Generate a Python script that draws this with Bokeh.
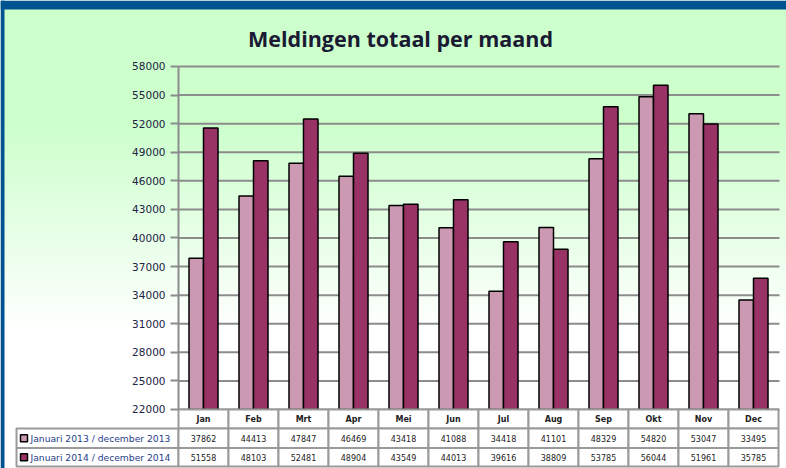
import numpy as np
from bokeh.plotting import figure
from bokeh.models import Range1d, LinearAxis, FixedTicker, NumeralTickFormatter
from bokeh.core.properties import value
from bokeh.embed import file_html
from bokeh.resources import INLINE

# ---------------- data ----------------
months = ["Jan", "Feb", "Mrt", "Apr", "Mei", "Jun", "Jul", "Aug", "Sep", "Okt", "Nov", "Dec"]
v2013 = [37862, 44413, 47847, 46469, 43418, 41088, 34418, 41101, 48329, 54820, 53047, 33495]
v2014 = [51558, 48103, 52481, 48904, 43549, 44013, 39616, 38809, 53785, 56044, 51961, 35785]
series = ["Januari 2013 / december 2013", "Januari 2014 / december 2014"]
yticks = [22000, 25000, 28000, 31000, 34000, 37000, 40000, 43000, 46000, 49000, 52000, 55000, 58000]
title = "Meldingen totaal per maand"

# ---------------- styles ----------------
LIGHT = "#CC99B3"
DARK = "#993366"
GRID = "#8c8c8c"
TBL = "#9a9a9a"
BLUE = "#005291"
W, H = 786, 468
X0, X1 = -4.06, 11.66

p = figure(width=W, height=H, output_backend="svg", toolbar_location=None,
           x_range=Range1d(X0, X1), y_range=Range1d(15807, 64927),
           min_border=0, x_axis_location=None, y_axis_location=None)
p.outline_line_color = None
p.grid.visible = False
p.background_fill_color = "white"
p.border_fill_color = "white"
p.extra_y_ranges = {"px": Range1d(0, H)}

# background gradient (green at top fading to white)
rows = H
page_y = H - (np.arange(rows) + 0.5)
t = np.clip((page_y - 120) / (330 - 120), 0, 1)
img = np.zeros((rows, 1), dtype=np.uint32)
view = img.view(dtype=np.uint8).reshape((rows, 1, 4))
view[:, 0, 0] = (204 + 51 * t).astype(np.uint8)
view[:, 0, 1] = 255
view[:, 0, 2] = (204 + 51 * t).astype(np.uint8)
view[:, 0, 3] = 255
p.image_rgba(image=[img], x=X0, y=0, dw=X1 - X0, dh=H, y_range_name="px")

# slide frame (blue strips at top and left)
p.quad(left=[X0, X0], right=[X1, X0 + 0.08], top=[H, H], bottom=[H - 9, 0],
       y_range_name="px", fill_color=BLUE, line_color=None)

# gridlines
p.segment(x0=[-0.5] * len(yticks), x1=[X1 - 0.14] * len(yticks), y0=yticks, y1=yticks,
          line_color=GRID, line_width=2)

# bars
idx = np.arange(len(months))
bw = 0.29
p.vbar(x=idx - bw / 2, width=bw, top=v2013, bottom=yticks[0],
       fill_color=LIGHT, line_color="black", line_width=1.5)
p.vbar(x=idx + bw / 2, width=bw, top=v2014, bottom=yticks[0],
       fill_color=DARK, line_color="black", line_width=1.5)

# y axis
ax = LinearAxis(ticker=FixedTicker(ticks=yticks), bounds=(yticks[0], yticks[-1]),
                fixed_location=-0.5, formatter=NumeralTickFormatter(format="0"))
ax.axis_line_color = GRID
ax.axis_line_width = 2
ax.major_tick_line_color = GRID
ax.major_tick_line_width = 2
ax.major_tick_out = 8
ax.major_tick_in = 0
ax.minor_tick_out = 0
ax.minor_tick_in = 0
ax.major_label_standoff = 5
ax.major_label_text_font = "DejaVu Sans"
ax.major_label_text_font_size = "10.5px"
ax.major_label_text_color = "#222244"
p.add_layout(ax, "left")

# data table
hdr_top, hdr_bot = 59, 40
r1_top, r1_bot = 40, 20.5
r2_top, r2_bot = 20.5, 2
LEG_L = -3.74
p.quad(left=idx - 0.5, right=idx + 0.5, top=hdr_top, bottom=hdr_bot, y_range_name="px",
       fill_color="white", line_color=TBL, line_width=2)
lefts = [LEG_L] + list(idx - 0.5)
rights = [-0.5] + list(idx + 0.5)
p.quad(left=lefts, right=rights, top=r1_top, bottom=r1_bot, y_range_name="px",
       fill_color="white", line_color=TBL, line_width=2)
p.quad(left=lefts, right=rights, top=r2_top, bottom=r2_bot, y_range_name="px",
       fill_color="white", line_color=TBL, line_width=2)

p.text(x=idx, y=[(hdr_top + hdr_bot) / 2] * len(months), text=months, y_range_name="px",
       text_align="center", text_baseline="middle", text_font=value("DejaVu Sans"),
       text_font_size="8px", text_font_style="bold", text_color="#222222")
p.text(x=idx, y=[(r1_top + r1_bot) / 2] * len(months), text=[str(v) for v in v2013],
       y_range_name="px", text_align="center", text_baseline="middle",
       text_font=value("DejaVu Sans"), text_font_size="8px", text_color="#222222")
p.text(x=idx, y=[(r2_top + r2_bot) / 2] * len(months), text=[str(v) for v in v2014],
       y_range_name="px", text_align="center", text_baseline="middle",
       text_font=value("DejaVu Sans"), text_font_size="8px", text_color="#222222")

leg_y = [(r1_top + r1_bot) / 2, (r2_top + r2_bot) / 2]
p.scatter(x=[LEG_L + 0.15] * 2, y=leg_y, marker="square", size=7, y_range_name="px",
          fill_color=[LIGHT, DARK], line_color="black", line_width=1.5)
p.text(x=[LEG_L + 0.28] * 2, y=leg_y, text=series, y_range_name="px",
       text_align="left", text_baseline="middle", text_font=value("DejaVu Sans"),
       text_font_size="9.2px", text_color="#1F3C88")

# title
p.text(x=[3.94], y=[430], text=[title], y_range_name="px",
       text_align="center", text_baseline="middle", text_font=value("Open Sans"),
       text_font_size="21.5px", text_font_style="bold", text_color="#1a1a33")

open("out.html", "w").write(file_html(p, INLINE))
